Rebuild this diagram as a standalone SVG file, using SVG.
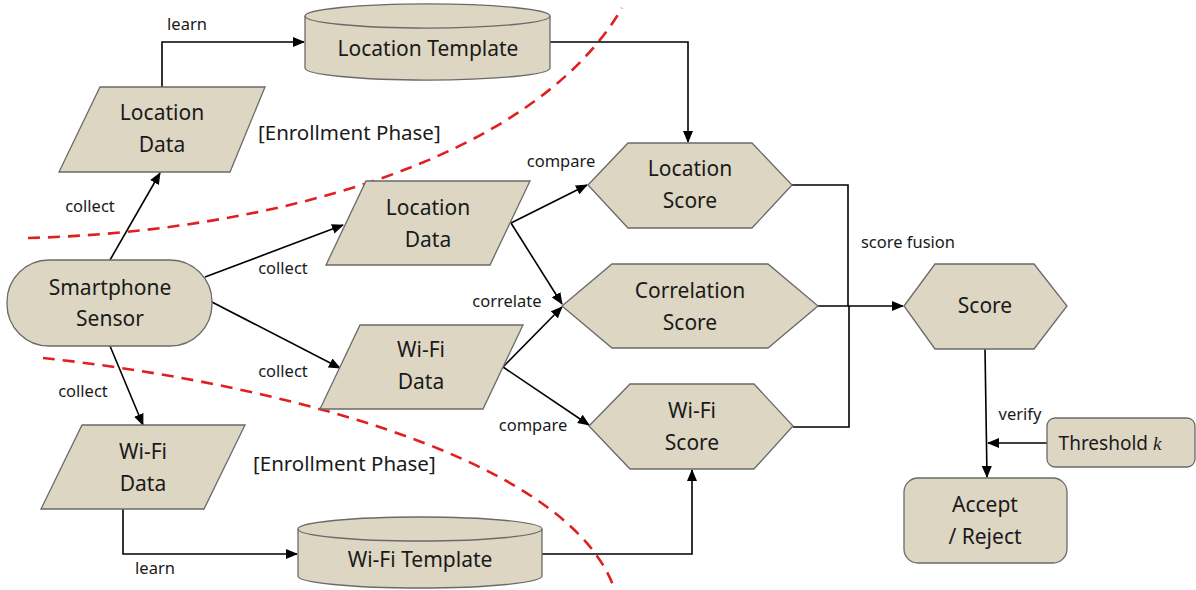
<svg xmlns="http://www.w3.org/2000/svg" width="1196" height="590" viewBox="0 0 1196 590">
<style>
.n{fill:#ddd6c2;stroke:#6a6a6a;stroke-width:1.3}
.t{font-family:"Noto Sans","Liberation Sans",sans-serif;font-size:21px;fill:#1a1a1a;text-anchor:middle}
.l{font-family:"Noto Sans","Liberation Sans",sans-serif;font-size:16.5px;fill:#1a1a1a;text-anchor:middle}
.e{font-family:"Noto Sans","Liberation Sans",sans-serif;font-size:20.5px;fill:#1a1a1a}
.c{fill:none;stroke:#000;stroke-width:1.6;marker-end:url(#a)}
.c0{fill:none;stroke:#000;stroke-width:1.6}
.d{fill:none;stroke:#e02020;stroke-width:2.6;stroke-dasharray:12 8}
</style>
<defs>
<marker id="a" markerWidth="12" markerHeight="10" refX="11" refY="5" orient="auto" markerUnits="userSpaceOnUse">
<path d="M0,0 L12,5 L0,10 Z" fill="#000"/>
</marker>
</defs>
<rect width="1196" height="590" fill="#fff"/>

<g id="dividers">
<path class="d" d="M28,238 C260,232 530,165 622,8"/>
<path class="d" d="M43,358 C250,380 560,450 613,585"/>
</g>

<g id="connectors">
<polyline class="c" points="162,87 162,42 304,42"/>
<polyline class="c" points="550,42 688,42 688,142"/>
<line class="c" x1="110" y1="260" x2="160" y2="173"/>
<line class="c" x1="205" y1="277" x2="343" y2="225"/>
<line class="c" x1="208" y1="300" x2="340" y2="368"/>
<line class="c" x1="110" y1="346" x2="143" y2="425"/>
<polyline class="c" points="123,509 123,554 297,554"/>
<polyline class="c" points="542,554 692,554 692,470"/>
<line class="c" x1="511" y1="223" x2="587" y2="185"/>
<line class="c" x1="511" y1="223" x2="562" y2="304"/>
<line class="c" x1="503" y1="367" x2="562" y2="307"/>
<line class="c" x1="503" y1="367" x2="589" y2="425"/>
<polyline class="c0" points="792,185 848,185 848,306"/>
<polyline class="c0" points="793,427 849,427 849,306"/>
<line class="c" x1="818" y1="306" x2="903" y2="306"/>
<line class="c" x1="985" y1="349" x2="987" y2="477"/>
<line class="c" x1="1047" y1="443" x2="988" y2="443"/>
<text class="l" x="187" y="30">learn</text>
<text class="l" x="90" y="212">collect</text>
<text class="l" x="283" y="274">collect</text>
<text class="l" x="283" y="377">collect</text>
<text class="l" x="83" y="397">collect</text>
<text class="l" x="155" y="574">learn</text>
<text class="l" x="561" y="167">compare</text>
<text class="l" x="507" y="307">correlate</text>
<text class="l" x="533" y="431">compare</text>
<text class="l" x="908" y="248">score fusion</text>
<text class="l" x="1020" y="420">verify</text>
</g>

<text class="e" x="258" y="140">[Enrollment Phase]</text>
<text class="e" x="253" y="471">[Enrollment Phase]</text>

<g id="locTemplate">
<path class="n" d="M305,16 L305,68 A122,12 0 0 0 550,68 L550,16 A122,12 0 0 0 305,16 Z"/>
<path class="n" d="M305,16 A122,12 0 0 0 550,16" fill="none"/>
<text class="t" x="428" y="56">Location Template</text>
</g>

<g id="locDataTop">
<polygon class="n" points="100,87 265,87 230,172 59,172"/>
<text class="t" x="162" y="120">Location</text>
<text class="t" x="162" y="152">Data</text>
</g>

<g id="sensor">
<rect class="n" x="7" y="260" width="205" height="86" rx="42" ry="42"/>
<text class="t" x="110" y="295">Smartphone</text>
<text class="t" x="110" y="326">Sensor</text>
</g>

<g id="locDataMid">
<polygon class="n" points="366,181 530,181 490,265 326,265"/>
<text class="t" x="428" y="215">Location</text>
<text class="t" x="428" y="247">Data</text>
</g>

<g id="wifiDataMid">
<polygon class="n" points="360,325 523,325 483,409 320,409"/>
<text class="t" x="421" y="357">Wi-Fi</text>
<text class="t" x="421" y="389">Data</text>
</g>

<g id="wifiDataBot">
<polygon class="n" points="82,425 245,425 204,509 41,509"/>
<text class="t" x="143" y="459">Wi-Fi</text>
<text class="t" x="143" y="491">Data</text>
</g>

<g id="wifiTemplate">
<path class="n" d="M298,529 L298,576 A122,12 0 0 0 542,576 L542,529 A122,12 0 0 0 298,529 Z"/>
<path class="n" d="M298,529 A122,12 0 0 0 542,529" fill="none"/>
<text class="t" x="420" y="567">Wi-Fi Template</text>
</g>

<g id="locScore">
<polygon class="n" points="588,185 628,143 752,143 792,185 752,228 628,228"/>
<text class="t" x="690" y="176">Location</text>
<text class="t" x="690" y="208">Score</text>
</g>

<g id="corrScore">
<polygon class="n" points="562,306 612,264 768,264 818,306 768,348 612,348"/>
<text class="t" x="690" y="298">Correlation</text>
<text class="t" x="690" y="330">Score</text>
</g>

<g id="wifiScore">
<polygon class="n" points="589,426 630,384 754,384 793,426 754,469 630,469"/>
<text class="t" x="692" y="418">Wi-Fi</text>
<text class="t" x="692" y="450">Score</text>
</g>

<g id="score">
<polygon class="n" points="904,306 935,264 1034,264 1067,306 1034,349 935,349"/>
<text class="t" x="985" y="313">Score</text>
</g>

<g id="threshold">
<rect class="n" x="1047" y="418" width="148" height="49" rx="8" ry="8"/>
<text class="t" x="1110" y="450" style="font-size:19px">Threshold <tspan font-family="'Liberation Serif',serif" font-style="italic">k</tspan></text>
</g>

<g id="accept">
<rect class="n" x="904" y="478" width="163" height="85" rx="14" ry="14"/>
<text class="t" x="985" y="512">Accept</text>
<text class="t" x="985" y="544">/ Reject</text>
</g>
</svg>
